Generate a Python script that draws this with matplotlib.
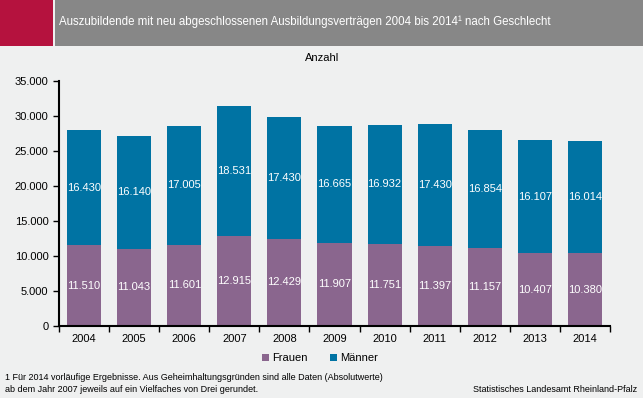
import matplotlib.pyplot as plt
from matplotlib.patches import Rectangle

years = ['2004', '2005', '2006', '2007', '2008', '2009', '2010', '2011', '2012', '2013', '2014']
frauen = [11510, 11043, 11601, 12915, 12429, 11907, 11751, 11397, 11157, 10407, 10380]
maenner = [16430, 16140, 17005, 18531, 17430, 16665, 16932, 17430, 16854, 16107, 16014]
yticks = [0, 5000, 10000, 15000, 20000, 25000, 30000, 35000]


def fmt(v):
    return '{:,}'.format(v).replace(',', '.')


bg = '#eff0f0'
c_frauen = '#8a668e'
c_maenner = '#0073a3'

plt.rcParams['font.family'] = ['Liberation Sans', 'DejaVu Sans']

fig = plt.figure(figsize=(6.43, 3.98), dpi=100)
fig.patch.set_facecolor(bg)

# header bar
fig.patches.append(Rectangle((0, 1 - 46 / 398), 53 / 643, 46 / 398, transform=fig.transFigure,
                             facecolor='#b5123e', edgecolor='none'))
fig.patches.append(Rectangle((55 / 643, 1 - 46 / 398), 1, 46 / 398, transform=fig.transFigure,
                             facecolor='#878787', edgecolor='none'))
fig.text(59 / 643, 1 - 22 / 398,
         'Auszubildende mit neu abgeschlossenen Ausbildungsverträgen 2004 bis 2014¹ nach Geschlecht',
         color='white', fontsize=8.3, va='center', ha='left')

ax = fig.add_axes([59 / 643, 1 - 326 / 398, 551 / 643, 245 / 398])
ax.set_facecolor(bg)

x = list(range(len(years)))
ax.bar(x, frauen, width=0.68, color=c_frauen, label='Frauen')
ax.bar(x, maenner, width=0.68, bottom=frauen, color=c_maenner, label='Männer')

for i in x:
    ax.text(i, frauen[i] / 2, fmt(frauen[i]), ha='center', va='center', color='white', fontsize=8)
    ax.text(i, frauen[i] + maenner[i] / 2, fmt(maenner[i]), ha='center', va='center',
            color='white', fontsize=8)

ax.set_xlim(-0.5, len(years) - 0.5)
ax.set_ylim(0, 35000)
ax.set_yticks(yticks)
ax.set_yticklabels([fmt(v) for v in yticks], fontsize=8)
ax.set_xticks(x)
ax.set_xticklabels(years, fontsize=8)
ax.set_xticks([i - 0.5 for i in range(len(years) + 1)], minor=True)
ax.tick_params(axis='x', which='major', length=0, pad=6)
ax.tick_params(axis='x', which='minor', length=4, direction='out', width=1)
ax.tick_params(axis='y', length=4, direction='out', width=1)
for s in ['top', 'right']:
    ax.spines[s].set_visible(False)
ax.spines['left'].set_linewidth(1.5)
ax.spines['bottom'].set_linewidth(1.5)

fig.text(322 / 643, 1 - 58 / 398, 'Anzahl', ha='center', va='center', fontsize=8)

fig.legend(loc='center', bbox_to_anchor=(320 / 643, 1 - 358 / 398), ncol=2, frameon=False,
           fontsize=8, handlelength=0.6, handleheight=0.6, handletextpad=0.3, columnspacing=2)

fig.text(5 / 643, 1 - 378 / 398,
         '1 Für 2014 vorläufige Ergebnisse. Aus Geheimhaltungsgründen sind alle Daten (Absolutwerte)',
         fontsize=6.5, va='center', ha='left')
fig.text(5 / 643, 1 - 389 / 398,
         'ab dem Jahr 2007 jeweils auf ein Vielfaches von Drei gerundet.',
         fontsize=6.5, va='center', ha='left')
fig.text(637 / 643, 1 - 390 / 398, 'Statistisches Landesamt Rheinland-Pfalz',
         fontsize=6.5, va='center', ha='right')

fig.savefig('out.png', dpi=100, facecolor=bg)
